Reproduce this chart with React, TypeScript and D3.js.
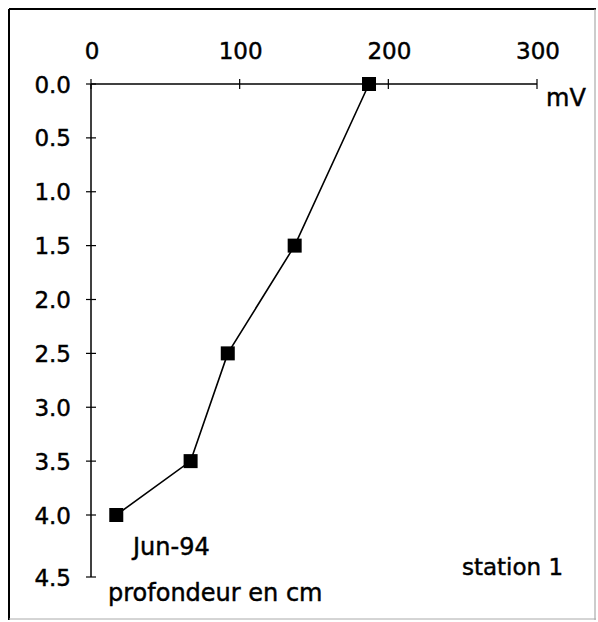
import React from "react";
import * as d3 from "d3";

// Redox potential (mV) measured at each depth (cm), station 1, June 1994
const depths = [0.0, 1.5, 2.5, 3.5, 4.0];
const potentials = [187, 137, 92, 67, 17];

const xTicks = [0, 100, 200, 300];
const yTicks = [0, 0.5, 1.0, 1.5, 2.0, 2.5, 3.0, 3.5, 4.0, 4.5];

const W = 598;
const H = 622;
const FONT = "'DejaVu Sans', Verdana, sans-serif";

// slightly heavier text, closer to the original typeface
const textStyle = { fill: "#000", stroke: "#000", strokeWidth: 0.45 };

export default function App() {
  const x = d3.scaleLinear().domain([0, 300]).range([91, 537]);
  // depth axis: last interval is drawn slightly longer on the original plate
  const y = d3.scaleLinear().domain([0, 4, 4.5]).range([84, 515, 577]);

  const pts = depths.map((d, i) => ({ d, v: potentials[i] }));
  const line = d3
    .line<{ d: number; v: number }>()
    .x((p) => x(p.v))
    .y((p) => y(p.d));

  const ms = 14;

  return (
    <svg
      width={W}
      height={H}
      style={{ position: "absolute", left: 0, top: 0, background: "#fff" }}
      fontFamily={FONT}
    >
      <rect x={0} y={0} width={W} height={H} fill="#fff" />
      {/* frame */}
      <line x1={9} y1={9} x2={596} y2={9} stroke="#000" strokeWidth={2} />
      <line x1={9} y1={9} x2={9} y2={620} stroke="#000" strokeWidth={2} />
      <line x1={595} y1={9} x2={595} y2={620} stroke="#999" strokeWidth={1} />
      <line x1={9} y1={619} x2={596} y2={619} stroke="#aaa" strokeWidth={1} />

      {/* top axis (mV) */}
      <line x1={x(0)} y1={y(0)} x2={x(300)} y2={y(0)} stroke="#000" strokeWidth={1.5} />
      {xTicks.map((t) => (
        <g key={"xt" + t}>
          <line x1={x(t)} y1={y(0) - 5} x2={x(t)} y2={y(0) + 5} stroke="#000" strokeWidth={1.2} />
          <text x={x(t) + 1} y={59} fontSize={23} textAnchor="middle" style={textStyle}>
            {t}
          </text>
        </g>
      ))}
      <text x={546} y={106} fontSize={24} style={textStyle}>
        mV
      </text>

      {/* left axis (depth) */}
      <line x1={x(0)} y1={y(0)} x2={x(0)} y2={y(4.5)} stroke="#000" strokeWidth={1.5} />
      {yTicks.map((t) => (
        <g key={"yt" + t}>
          <line x1={x(0) - 5} y1={y(t)} x2={x(0) + 5} y2={y(t)} stroke="#000" strokeWidth={1.2} />
          <text x={71} y={y(t) + 8.5} fontSize={23} textAnchor="end" style={textStyle}>
            {t.toFixed(1)}
          </text>
        </g>
      ))}

      {/* profile */}
      <path d={line(pts) || ""} fill="none" stroke="#000" strokeWidth={1.6} />
      {pts.map((p, i) => (
        <rect
          key={"m" + i}
          x={x(p.v) - ms / 2}
          y={y(p.d) - ms / 2}
          width={ms}
          height={ms}
          fill="#000"
        />
      ))}

      <text x={133} y={555} fontSize={24} style={textStyle}>
        Jun-94
      </text>
      <text x={462} y={575} fontSize={23} style={textStyle}>
        station 1
      </text>
      <text x={108} y={601} fontSize={24} style={textStyle}>
        profondeur en cm
      </text>
    </svg>
  );
}
